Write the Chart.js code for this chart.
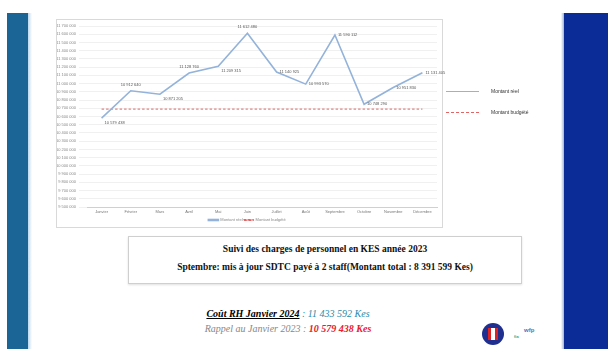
<!DOCTYPE html>
<html>
<head>
<meta charset="utf-8">
<script src="https://cdn.jsdelivr.net/npm/chart.js@4.4.1/dist/chart.umd.min.js"></script>
<style>
  html, body { margin: 0; padding: 0; }
  body { width: 608px; height: 349px; position: relative; overflow: hidden; background: #fff; font-family: "Liberation Sans", Arial, sans-serif; }
  .barL { position: absolute; left: 7px; top: 13px; width: 21px; height: 336px; background: #1b6496; }
  .barL2 { position: absolute; left: 28px; top: 13px; width: 4px; height: 336px; background: linear-gradient(to right, #bcd8ee, #ffffff); }
  .barR { position: absolute; left: 564px; top: 13px; width: 44px; height: 336px; background: #0b2b97; }
  .barR2 { position: absolute; left: 561px; top: 13px; width: 3px; height: 336px; background: linear-gradient(to right, #ffffff, #9fb3d9); }
  .chartBox { position: absolute; left: 56px; top: 19px; width: 385px; height: 207px; border: 1px solid #d9d9d9; }
  #chart { position: absolute; left: 0; top: 0; }
  .legend { position: absolute; left: 446px; top: 84px; font-size: 5px; color: #333; }
  .legend .item { position: relative; height: 21px; }
  .legend .sample { position: absolute; left: 0; top: 7px; width: 33px; }
  .legend .txt { position: absolute; left: 45px; top: 4px; white-space: nowrap; }
  .textBox { position: absolute; left: 128px; top: 236px; width: 392px; height: 46px; border: 1px solid #cfcfcf; box-shadow: 0 1px 2px #e0e0e0;
             font-family: "Liberation Serif", "Times New Roman", serif; font-weight: bold; font-size: 9.5px; text-align: center; color: #111; }
  .textBox div { position: absolute; left: 0; width: 100%; }
  .cost { position: absolute; left: 98px; width: 380px; text-align: center; font-family: "Liberation Serif", serif; font-style: italic; font-size: 10px; white-space: nowrap; }
  .logo { position: absolute; left: 482px; top: 323px; width: 22px; height: 22px; border-radius: 50%; background: #1f2f8f; }
  .logo i { position: absolute; left: 6px; top: 5px; width: 10px; height: 12px; background: #fff; border-left: 3px solid #d22; border-right: 3px solid #d22; box-sizing: border-box; }
  .mini { position: absolute; font-size: 6px; font-weight: bold; }
</style>
</head>
<body>
<div class="barL"></div><div class="barL2"></div>
<div class="barR2"></div><div class="barR"></div>

<div class="chartBox"><canvas id="chart" width="400" height="212"></canvas></div>
<div class="legend" id="legend"></div>

<div class="textBox">
  <div style="top:7px">Suivi des charges de personnel en KES année 2023</div>
  <div style="top:25px">Sptembre: mis à jour SDTC payé à 2 staff(Montant total : 8 391 599 Kes)</div>
</div>

<div class="cost" style="top:308px"><b><u>Coût RH Janvier 2024</u></b><span style="color:#2a8aa8"> : 11 433 592 Kes</span></div>
<div class="cost" style="top:323px; color:#888">Rappel au Janvier 2023 : <b style="color:#e8202a">10 579 438 Kes</b></div>

<div class="logo"><i></i></div>
<div class="mini" style="left:514px; top:334px; color:#4a9a6a; font-size:4px">fia</div>
<div class="mini" style="left:524px; top:327px; color:#5a6fb5">wfp</div>

<script>
const months = ['Janvier', 'Février', 'Mars', 'Avril', 'Mai', 'Juin', 'Juillet', 'Août', 'Septembre', 'Octobre', 'Novembre', 'Décembre'];
const montantReel = [10579438, 10912640, 10871205, 11128760, 11209315, 11612480, 11140925, 10993570, 11590112, 10748290, 10951830, 11131405];
const montantBudgete = [10690000, 10690000, 10690000, 10690000, 10690000, 10690000, 10690000, 10690000, 10690000, 10690000, 10690000, 10690000];
const seriesNames = ['Montant réel', 'Montant budgété'];
const yMin = 9500000, yMax = 11700000, yStep = 100000;

// where each value label sits relative to its point
const labelPos = ['below', 'above', 'below', 'above', 'below', 'above', 'right', 'right', 'right', 'right', 'right', 'right'];

const blue = '#93b3da';
const red = '#e46464';

function fmt(v) {
    return String(Math.round(v)).replace(/\B(?=(\d{3})+(?!\d))/g, ' ');
}

const valueLabels = {
    id: 'valueLabels',
    afterDatasetsDraw(chart) {
        const ctx = chart.ctx;
        const meta = chart.getDatasetMeta(0);
        ctx.save();
        ctx.font = '4px "Liberation Sans", Arial, sans-serif';
        ctx.fillStyle = '#555';
        ctx.textBaseline = 'middle';
        meta.data.forEach((pt, i) => {
            const txt = fmt(montantReel[i]);
            let x = pt.x, y = pt.y;
            if (labelPos[i] === 'above') { ctx.textAlign = 'center'; y -= 6; }
            else if (labelPos[i] === 'below') { ctx.textAlign = 'left'; x += 3; y += 5; }
            else { ctx.textAlign = 'left'; x += 3; }
            ctx.fillText(txt, x, y);
        });
        ctx.restore();
    }
};

new Chart(document.getElementById('chart'), {
    type: 'line',
    data: {
        labels: months,
        datasets: [{
            label: seriesNames[0],
            data: montantReel,
            borderColor: blue,
            backgroundColor: blue,
            borderWidth: 1.6,
            pointRadius: 0,
            tension: 0
        }, {
            label: seriesNames[1],
            data: montantBudgete,
            borderColor: red,
            backgroundColor: red,
            borderWidth: 1,
            borderDash: [2.5, 2],
            pointRadius: 0
        }]
    },
    options: {
        responsive: false,
        animation: false,
        layout: { padding: { top: 6, right: 20, left: 0, bottom: 0 } },
        plugins: {
            legend: {
                position: 'bottom',
                labels: { font: { size: 4 }, boxWidth: 10, boxHeight: 1, padding: 1, color: '#888' }
            },
            tooltip: { enabled: false }
        },
        scales: {
            x: {
                offset: true,
                grid: { display: false, drawTicks: false },
                border: { color: '#d0d0d0' },
                ticks: { font: { size: 4 }, color: '#777', padding: 2, maxRotation: 0, autoSkip: false },
                afterFit(scale) { scale.height = 10; }
            },
            y: {
                min: yMin,
                max: yMax,
                grid: { color: '#ececec', lineWidth: 0.8 },
                border: { display: false },
                ticks: { stepSize: yStep, font: { size: 4 }, color: '#888', padding: 3, callback: v => fmt(v) },
                afterFit(scale) { scale.width = 30; }
            }
        }
    },
    plugins: [valueLabels]
});

// right-hand legend
const legend = document.getElementById('legend');
seriesNames.forEach((name, i) => {
    const item = document.createElement('div');
    item.className = 'item';
    const s = document.createElement('div');
    s.className = 'sample';
    s.style.borderTop = i === 0 ? '1px solid ' + blue : '1.5px dashed ' + red;
    const t = document.createElement('div');
    t.className = 'txt';
    t.textContent = name;
    item.appendChild(s);
    item.appendChild(t);
    legend.appendChild(item);
});
</script>
</body>
</html>
